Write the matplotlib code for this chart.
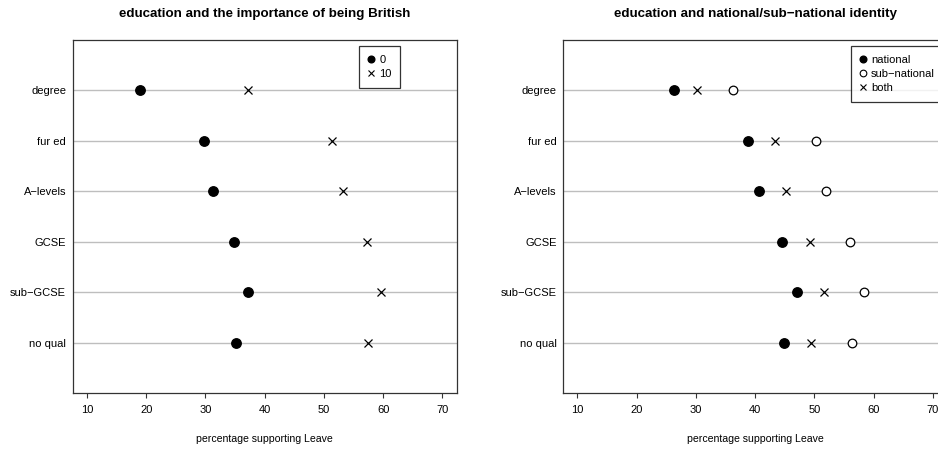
import matplotlib
matplotlib.use("Agg")
import matplotlib.pyplot as plt
from matplotlib.lines import Line2D

plt.rcParams['font.family'] = ['Liberation Sans', 'DejaVu Sans']

# education levels, top to bottom
levels = ["degree", "fur ed", "A\u2212levels", "GCSE", "sub\u2212GCSE", "no qual"]

# percentage supporting Leave by importance of being British (0 vs 10)
british_0 = [19.0, 29.7, 31.3, 34.9, 37.2, 35.2]
british_10 = [37.1, 51.3, 53.2, 57.2, 59.6, 57.5]

# percentage supporting Leave by national / sub-national identity
national = [26.3, 38.8, 40.7, 44.5, 47.0, 44.8]
sub_national = [36.3, 50.2, 52.0, 56.0, 58.4, 56.4]
both = [30.2, 43.3, 45.2, 49.2, 51.6, 49.5]

xticks = [10, 20, 30, 40, 50, 60, 70]

FS = 8.0

W, H = 938, 453
fig = plt.figure(figsize=(W / 100, H / 100), dpi=100)

ax_w = 384 / W
ax_h = 353 / H
ax_b = 1 - 393 / H
ax1 = fig.add_axes([72.7 / W, ax_b, ax_w, ax_h])
ax2 = fig.add_axes([563.2 / W, ax_b, ax_w, ax_h])

ypos = list(range(len(levels), 0, -1))
grid_col = "#bebebe"


def style(ax, title):
    ax.set_xlim(7.6, 72.4)
    ax.set_ylim(0.015, 6.985)
    for y in ypos:
        ax.axhline(y, color=grid_col, lw=1.0, zorder=1)
    ax.set_yticks(ypos)
    ax.set_yticklabels(levels, fontsize=FS)
    ax.tick_params(axis="y", length=0, pad=4.8)
    ax.set_xticks(xticks)
    ax.set_xticklabels([str(t) for t in xticks], fontsize=FS)
    ax.tick_params(axis="x", direction="out", length=3.8, width=0.8, pad=4.8,
                   color="#333333")
    for s in ax.spines.values():
        s.set_color("#333333")
        s.set_linewidth(0.9)
    ax.set_xlabel("percentage supporting Leave", fontsize=7.6, labelpad=14)
    ax.set_title(title, fontsize=9.6, fontweight="bold", pad=16.5)


style(ax1, "education and the importance of being British")
style(ax2, "education and national/sub\u2212national identity")

ax1.plot(british_0, ypos, "o", color="black", ms=6.8, ls="none", zorder=3)
ax1.plot(british_10, ypos, "x", color="black", ms=6.4, mew=0.9, ls="none", zorder=3)

ax2.plot(national, ypos, "o", color="black", ms=6.8, ls="none", zorder=3)
ax2.plot(sub_national, ypos, "o", mfc="white", mec="black", mew=0.9, ms=6.2,
         ls="none", zorder=3)
ax2.plot(both, ypos, "x", color="black", ms=6.4, mew=0.9, ls="none", zorder=3)

leg_kw = dict(loc="upper left", fontsize=FS, frameon=True, fancybox=False,
              edgecolor="black", handlelength=0.55, handletextpad=0.45,
              borderpad=0.8, labelspacing=0.36, borderaxespad=0)

h1 = [Line2D([], [], marker="o", color="black", ls="none", ms=4.8),
      Line2D([], [], marker="x", color="black", ls="none", ms=4.8, mew=0.8)]
leg1 = ax1.legend(h1, ["0", "10"], bbox_to_anchor=(0.746, 0.983), **leg_kw)
leg1.get_frame().set_linewidth(0.9)

h2 = [Line2D([], [], marker="o", color="black", ls="none", ms=4.8),
      Line2D([], [], marker="o", mfc="white", mec="black", ls="none", ms=4.8, mew=0.8),
      Line2D([], [], marker="x", color="black", ls="none", ms=4.8, mew=0.8)]
leg2 = ax2.legend(h2, ["national", "sub\u2212national", "both"],
                  bbox_to_anchor=(0.749, 0.983), **leg_kw)
leg2.get_frame().set_linewidth(0.9)

fig.savefig("out.png", dpi=100, facecolor="white")
